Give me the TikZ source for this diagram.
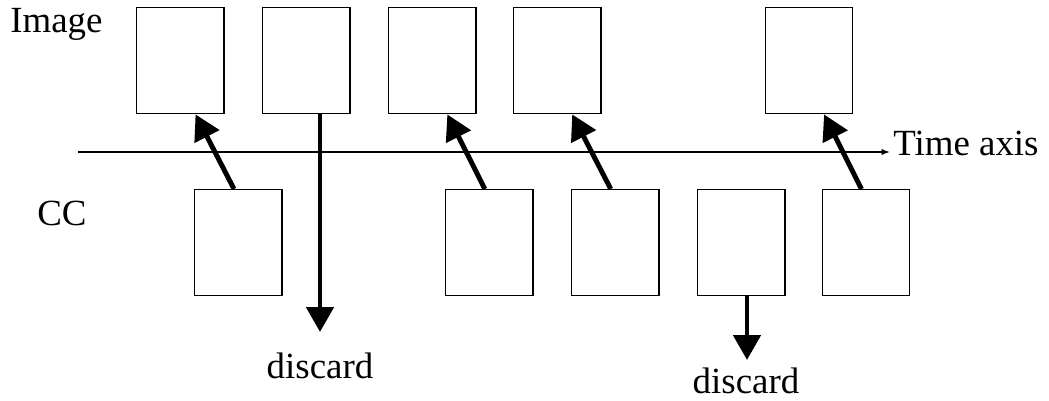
\documentclass[tikz,border=0pt]{standalone}
\usepackage{fontspec}
\setmainfont{Liberation Serif}
\usetikzlibrary{positioning,calc,arrows.meta}

\tikzset{
  frame/.style={draw, line width=0.8pt, minimum width=1.75cm, minimum height=2.12cm, inner sep=0pt},
  word/.style={inner sep=0pt, font=\fontsize{21}{25}\selectfont},
  pass/.style={line width=2.8pt, -{Triangle[length=0.5cm,width=0.54cm]}},
  axis/.style={line width=0.8pt, -{Latex[length=0.17cm,width=0.13cm]}}
}

\begin{document}
\begin{tikzpicture}[x=0.02cm, y=-0.02cm]
      \useasboundingbox (0,0) rectangle (1049,400);
      % Define nodes
      \node[word, anchor=base west] (image) at (10,32) {Image};
      \node[word, anchor=base west] (cc) at (37,225) {CC};
      \node[frame, anchor=north west] (img1) at (136,7) {};
      \node[frame, right=0.74cm of img1] (img2) {};
      \node[frame, right=0.74cm of img2] (img3) {};
      \node[frame, right=0.72cm of img3] (img4) {};
      \node[frame, right=3.26cm of img4] (img5) {};
      \node[frame, anchor=north west] (cc1) at (194,189) {};
      \node[frame, right=3.24cm of cc1] (cc2) {};
      \node[frame, right=0.74cm of cc2] (cc3) {};
      \node[frame, right=0.74cm of cc3] (cc4) {};
      \node[frame, right=0.72cm of cc4] (cc5) {};
      \node[word, anchor=base west] (time) at (893,155) {Time axis};
      \node[word, anchor=base] (discard1) at (320,378) {discard};
      \node[word, anchor=base] (discard2) at (746,393) {discard};
      \coordinate (t0) at (78,152);
      \coordinate (t1) at (890,152);
      \coordinate (d1) at (320,332);
      \coordinate (d2) at (747,360);

      % Connect the nodes
      \draw[axis] (t0) -- (t1);
      \foreach \c/\i in {1/1, 2/3, 3/4, 5/5}
        \draw[pass] ($(cc\c.north west)!0.45!(cc\c.north east)$) -- ($(img\i.south west)!0.67!(img\i.south east)$);
      \draw[pass] (img2.south -| d1) -- (d1);
      \draw[pass] (cc4.south -| d2) -- (d2);
\end{tikzpicture}
\end{document}
